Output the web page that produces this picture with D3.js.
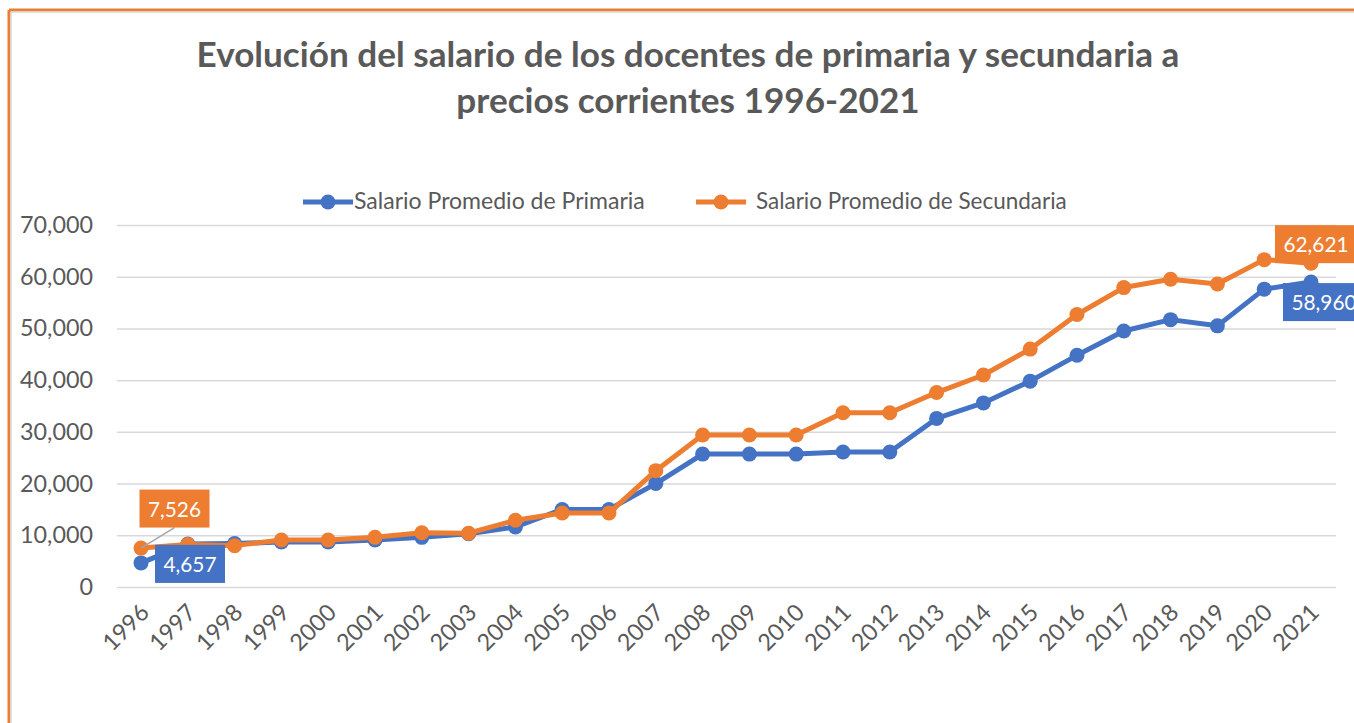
<!DOCTYPE html>
<html>
<head>
<meta charset="utf-8">
<script src="https://cdn.jsdelivr.net/npm/d3@7"></script>
<style>
  html, body { margin: 0; padding: 0; background: #fff; }
  svg { display: block; }
  text { font-family: Lato, "Open Sans", sans-serif; }
</style>
</head>
<body>
<svg id="chart" width="1354" height="723"></svg>
<script>
const years = ["1996","1997","1998","1999","2000","2001","2002","2003","2004","2005","2006","2007","2008","2009","2010","2011","2012","2013","2014","2015","2016","2017","2018","2019","2020","2021"];
const primaria = [4657,8300,8400,8700,8700,9100,9600,10300,11600,15000,15000,20000,25700,25700,25700,26100,26100,32600,35600,39800,44800,49500,51700,50500,57600,58960];
const secundaria = [7526,8200,8000,9100,9100,9600,10500,10400,12900,14300,14300,22500,29400,29400,29400,33700,33700,37600,41000,46000,52700,57900,59500,58600,63300,62621];
const yTicks = [0,10000,20000,30000,40000,50000,60000,70000];
const seriesNames = ["Salario Promedio de Primaria","Salario Promedio de Secundaria"];
const colors = ["#4472C4","#ED7D31"];
const titleLines = ["Evolución del salario de los docentes de primaria y secundaria a","precios corrientes 1996-2021"];

const svg = d3.select("#chart");
const fmt = d3.format(",");

function fit(sel, target) {
  const n = sel.node();
  const fs = parseFloat(sel.attr("font-size"));
  const w = n.getComputedTextLength();
  sel.attr("font-size", fs * target / w);
  return fs * target / w;
}

// border
svg.append("line").attr("x1",9).attr("x2",1354).attr("y1",10).attr("y2",10).attr("stroke","#ED7D31").attr("stroke-width",3);
svg.append("line").attr("x1",9).attr("x2",9).attr("y1",10).attr("y2",723).attr("stroke","#ED7D31").attr("stroke-width",3);
svg.append("line").attr("x1",11).attr("x2",1354).attr("y1",12).attr("y2",12).attr("stroke","#D9D9D9").attr("stroke-width",1.5);
svg.append("line").attr("x1",11).attr("x2",11).attr("y1",12).attr("y2",723).attr("stroke","#D9D9D9").attr("stroke-width",1.5);

const x = d3.scalePoint().domain(years).range([141, 1311]);
const y = d3.scaleLinear().domain([0, 70000]).range([587, 225]);

// title
const t1 = svg.append("text").attr("x", 688).attr("y", 67).attr("text-anchor","middle")
  .attr("font-weight","bold").attr("font-size",32).attr("fill","#595959").text(titleLines[0]);
const tfs = fit(t1, 983);
svg.append("text").attr("x", 688).attr("y", 113).attr("text-anchor","middle")
  .attr("font-weight","bold").attr("font-size",tfs).attr("fill","#595959").text(titleLines[1]);

// gridlines + y axis
const yAxis = d3.axisLeft(y).tickValues(yTicks).tickFormat(fmt).tickSize(-(1336-117)).tickPadding(24);
const gy = svg.append("g").attr("transform","translate(117,0)").call(yAxis);
gy.select(".domain").remove();
gy.selectAll(".tick line").attr("stroke","#D9D9D9").attr("stroke-width",1.5);
gy.selectAll(".tick text").attr("fill","#595959").attr("font-size",20).attr("font-family","Lato, sans-serif");
let axfs = 20;
gy.selectAll(".tick text").filter(d => d === 70000).each(function(){ axfs = fit(d3.select(this), 73); });
gy.selectAll(".tick text").attr("font-size", axfs);

// x axis
const xAxis = d3.axisBottom(x).tickSize(0).tickPadding(0);
const gx = svg.append("g").attr("transform","translate(0,587)").call(xAxis);
gx.select(".domain").remove();
gx.selectAll(".tick text").attr("fill","#595959").attr("font-size",axfs).attr("font-family","Lato, sans-serif")
  .attr("text-anchor","end").attr("dy",null).attr("y",0)
  .attr("transform","translate(9,27) rotate(-45)");

// lines
const line = d3.line().x((d,i) => x(years[i])).y(d => y(d));
[primaria, secundaria].forEach((vals, k) => {
  const g = svg.append("g");
  g.append("path").datum(vals).attr("d", line).attr("fill","none")
    .attr("stroke", colors[k]).attr("stroke-width",5).attr("stroke-linejoin","round");
  g.selectAll("circle").data(vals).join("circle")
    .attr("cx",(d,i)=>x(years[i])).attr("cy",d=>y(d)).attr("r",7.5).attr("fill",colors[k]);
});

// legend
const legendItems = [{x:303, w:291}, {x:696, w:311}];
legendItems.forEach((it, k) => {
  const g = svg.append("g");
  g.append("line").attr("x1",it.x).attr("x2",it.x+50).attr("y1",202).attr("y2",202)
    .attr("stroke",colors[k]).attr("stroke-width",5);
  g.append("circle").attr("cx",it.x+25).attr("cy",202).attr("r",7.5).attr("fill",colors[k]);
  const tt = g.append("text").attr("x",it.x+(k?60:51)).attr("y",209).attr("fill","#595959")
    .attr("font-size",20).text(seriesNames[k]);
  fit(tt, it.w);
});

// data labels
const labels = [
  {s:1, i:0, dx:33.5, dy:-39.5, leader:true},
  {s:0, i:0, dx:49, dy:1},
  {s:1, i:25, dx:5, dy:-19},
  {s:0, i:25, dx:13, dy:20}
];
let lfs = null;
labels.forEach(l => {
  const vals = l.s ? secundaria : primaria;
  const px = x(years[l.i]), py = y(vals[l.i]);
  const cx = px + l.dx, cy = py + l.dy;
  const g = svg.append("g");
  if (l.leader) {
    g.append("line").attr("x1",px).attr("y1",py).attr("x2",cx).attr("y2",cy+19)
      .attr("stroke","#A6A6A6").attr("stroke-width",1.5);
  }
  const rect = g.append("rect").attr("fill", colors[l.s]);
  const tx = g.append("text").attr("x",cx).attr("y",cy+8).attr("text-anchor","middle")
    .attr("fill","#fff").attr("font-size",24).text(fmt(vals[l.i]));
  if (lfs === null) lfs = fit(tx, 53);
  tx.attr("font-size", lfs);
  const w = tx.node().getComputedTextLength() + 17;
  rect.attr("x", cx - w/2).attr("y", cy - 19).attr("width", w).attr("height", 38);
});
</script>
</body>
</html>
